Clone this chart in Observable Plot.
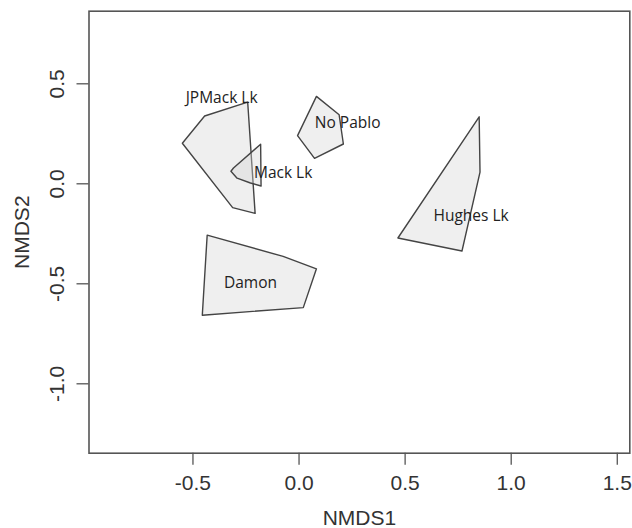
<!DOCTYPE html>
<html>
<head>
<meta charset="utf-8">
<script src="https://cdn.jsdelivr.net/npm/d3@7"></script>
<script src="https://cdn.jsdelivr.net/npm/@observablehq/plot@0.6"></script>
<style>
  html, body { margin: 0; padding: 0; background: #fff; }
  #chart svg { display: block; }
</style>
</head>
<body>
<div id="chart"></div>
<script>
// Convex hulls of sites per lake (NMDS ordination)
const hullNames = ["JPMack Lk", "Mack Lk", "No Pablo", "Hughes Lk", "Damon"];
const hullNMDS1 = [
  [-0.550, -0.445, -0.242, -0.207, -0.313],
  [-0.181, -0.309, -0.321, -0.292, -0.229, -0.179],
  [0.082, 0.189, 0.209, 0.073, -0.007],
  [0.849, 0.853, 0.768, 0.466],
  [-0.433, -0.075, 0.082, 0.020, -0.456]
];
const hullNMDS2 = [
  [0.203, 0.339, 0.408, -0.148, -0.119],
  [0.198, 0.079, 0.063, 0.028, 0.004, -0.011],
  [0.437, 0.345, 0.199, 0.127, 0.241],
  [0.335, 0.058, -0.336, -0.271],
  [-0.257, -0.363, -0.425, -0.619, -0.657]
];
// Label positions
const labelNMDS1 = [-0.365, -0.075, 0.229, 0.811, -0.229];
const labelNMDS2 = [0.429, 0.053, 0.302, -0.161, -0.497];
// Axis ticks
const xTicks = [-0.5, 0.0, 0.5, 1.0, 1.5];
const yTicks = [-1.0, -0.5, 0.0, 0.5];

const hullRows = hullNames.flatMap((name, i) =>
  hullNMDS1[i].map((x, j) => ({name, x, y: hullNMDS2[i][j]})));
const labelRows = hullNames.map((name, i) => ({name, x: labelNMDS1[i], y: labelNMDS2[i]}));
const fmt = d => d.toFixed(1);

const chart = Plot.plot({
  width: 632,
  height: 528,
  marginLeft: 88.5,
  marginRight: 2.7,
  marginTop: 10.7,
  marginBottom: 75.3,
  x: {domain: [-0.990, 1.559]},
  y: {domain: [-1.347, 0.863]},
  style: {fontFamily: "'Liberation Sans', Arial, sans-serif", fontSize: "21px", color: "#333", background: "#fff"},
  marks: [
    Plot.line(hullRows, {x: "x", y: "y", z: "name", curve: "linear-closed",
      fill: "#d4d4d4", fillOpacity: 0.38, stroke: "#444", strokeWidth: 1.4}),
    Plot.text(labelRows, {x: "x", y: "y", text: "name", fontFamily: "'Open Sans', sans-serif",
      fontSize: 15.5, fill: "#222"}),
    Plot.frame({stroke: "#555", strokeWidth: 1.6}),
    Plot.axisX({ticks: xTicks, tickFormat: fmt, tickSize: 12, tickPadding: 10, stroke: "#555",
      strokeWidth: 1.3, fill: "#333", label: "NMDS1", labelAnchor: "center", labelOffset: 72, labelArrow: "none"}),
    Plot.axisY({ticks: yTicks, tickFormat: fmt, tickSize: 12, tickPadding: 13, tickRotate: -90, stroke: "#555",
      strokeWidth: 1.3, fill: "#333", label: "NMDS2", labelAnchor: "center", labelOffset: 74.5, labelArrow: "none"})
  ]
});
document.getElementById("chart").appendChild(chart);
</script>
</body>
</html>
